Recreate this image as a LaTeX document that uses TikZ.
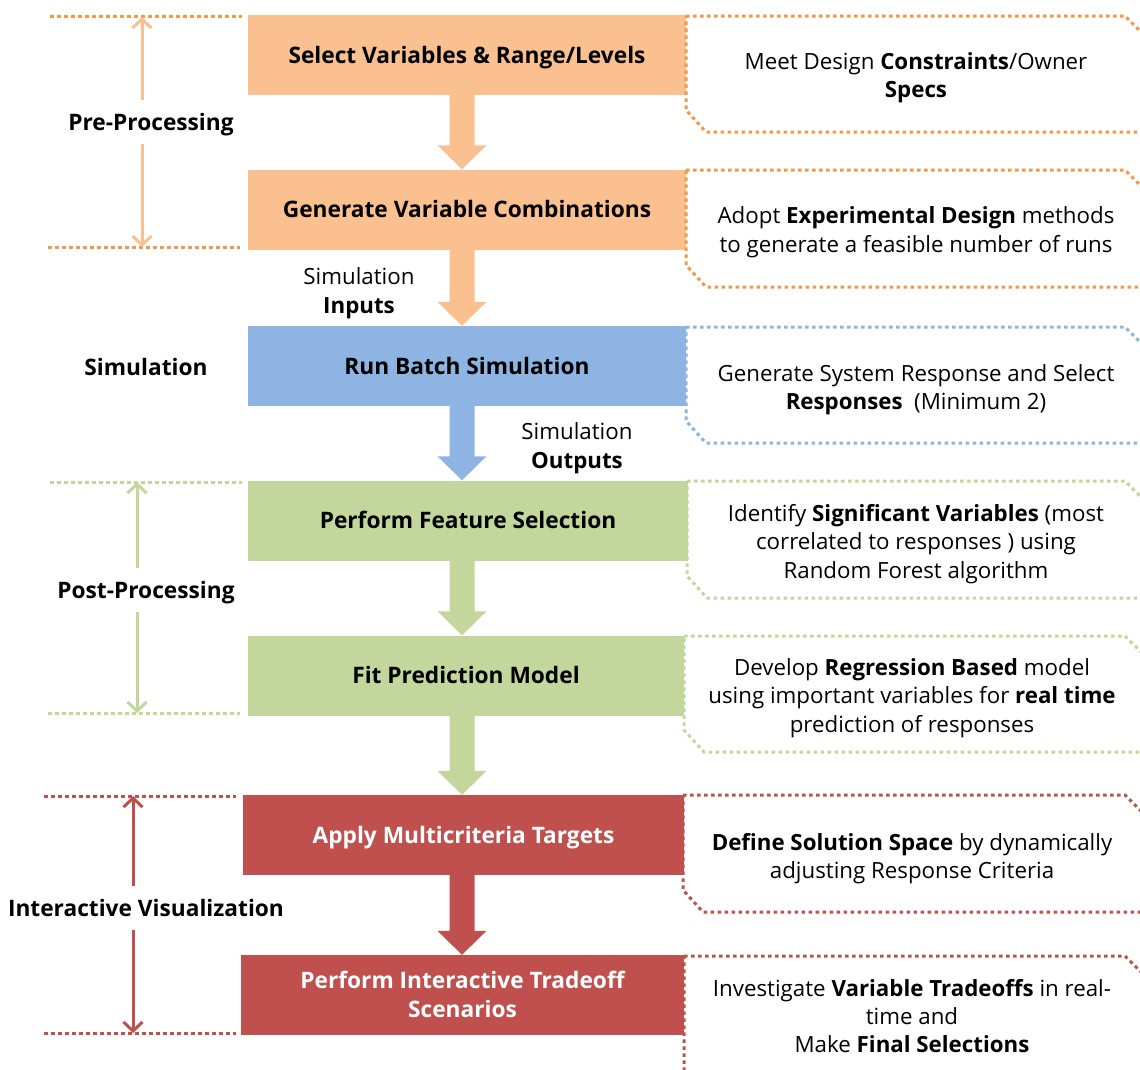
\documentclass[tikz,border=0pt]{standalone}
\usepackage{fontspec}
\setmainfont{Open Sans}
\usetikzlibrary{arrows.meta,calc}

\definecolor{orFill}{HTML}{FAC090}
\definecolor{orLine}{HTML}{F79646}
\definecolor{blFill}{HTML}{8EB4E3}
\definecolor{blLine}{HTML}{8EB4E3}
\definecolor{grFill}{HTML}{C3D69B}
\definecolor{grLine}{HTML}{C3D69B}
\definecolor{rdFill}{HTML}{C0504D}
\definecolor{rdLine}{HTML}{C0504D}

\newcommand\txtfont{\fontsize{22.3}{28.5}\selectfont}
\newcommand\hdfont{\fontsize{22.7}{28.5}\selectfont\bfseries}

% block arrow from the bottom of one stage to the top of the next
\newcommand\flowarrow[3]{%
  \fill[#3] ($(#1.south -| axis)+(-12.5,0)$) -- ($(#2.north -| axis)+(-12.5,-24)$)
    -- ($(#2.north -| axis)+(-24.5,-24)$) -- (#2.north -| axis)
    -- ($(#2.north -| axis)+(24.5,-24)$) -- ($(#2.north -| axis)+(12.5,-24)$)
    -- ($(#1.south -| axis)+(12.5,0)$) -- cycle;}

% dotted callout with two snipped corners: left x, right x, top y, bottom y
\newcommand\callout[5]{%
  \draw[dotline,#5] (#1,#3) -- (1125,#3) -- (1147,#3+22) -- (1147,#4)
    -- (#1+20,#4) -- (#1,#4-22) -- cycle;}

\tikzset{
  stage/.style={minimum width=438pt, minimum height=80pt, inner sep=0pt,
    align=center, font=\hdfont, text=black, text height=16pt, text depth=0pt},
  note/.style={align=center, font=\txtfont, text=black, inner sep=0pt},
  phase/.style={font=\hdfont, text=black, inner sep=0pt, text height=16pt, text depth=0pt},
  dotline/.style={line width=3pt, dash pattern=on 3.5pt off 3.5pt},
  span/.style={line width=3pt, -{Straight Barb[length=9pt,width=19pt,line width=3pt]}},
}

\begin{document}
\begin{tikzpicture}[x=1pt,y=-1pt]
\clip (0,0) rectangle (1140,1069);
\fill[white] (0,0) rectangle (1140,1069);
\coordinate (axis) at (462,0);

% stages
\node[stage, fill=orFill] (s1) at (467,55) {Select Variables \& Range/Levels};
\node[stage, fill=orFill] (s2) at (467,209.5) {Generate Variable Combinations};
\node[stage, fill=blFill] (s3) at (467,366) {Run Batch Simulation};
\node[stage, fill=grFill, minimum width=440pt] (s4) at (468,520.5) {Perform Feature Selection};
\node[stage, fill=grFill, minimum width=436pt] (s5) at (466,675.5) {Fit Prediction Model};
\node[stage, fill=rdFill, minimum width=441pt, text=white] (s6) at (463.5,835) {Apply Multicriteria Targets};
\node[stage, fill=rdFill, minimum width=443pt, text=white, text height=44.5pt] (s7) at (462.5,995) {Perform Interactive Tradeoff\\Scenarios};

% flow arrows
\flowarrow{s1}{s2}{orFill}
\flowarrow{s2}{s3}{orFill}
\flowarrow{s3}{s4}{blFill}
\flowarrow{s4}{s5}{grFill}
\flowarrow{s5}{s6}{grFill}
\flowarrow{s6}{s7}{rdFill}

% data labels beside the arrows
\node[note] (inp) at (359,293) {Simulation\\\textbf{Inputs}};
\node[note] (outp) at (577,448) {Simulation\\\textbf{Outputs}};

% callouts
\callout{686}{0}{16}{132}{orLine}
\callout{686}{0}{170}{287}{orLine}
\callout{686}{0}{327}{443}{blLine}
\callout{687}{0}{481}{598}{grLine}
\callout{684}{0}{636}{752}{grLine}
\callout{683}{0}{795}{912}{rdLine}
\callout{684}{0}{956}{1095}{rdLine}

\node[note] (n1) at (916,77.5) {Meet Design \textbf{Constraints}/Owner\\\textbf{Specs}};
\node[note] (n2) at (916,232) {Adopt \textbf{Experimental Design} methods\\to generate a feasible number of runs};
\node[note] (n3) at (916,389.5) {Generate System Response and Select\\\textbf{Responses}\ \ (Minimum 2)};
\node[note] (n4) at (916,544) {Identify \textbf{Significant Variables} (most\\correlated to responses ) using\\Random Forest algorithm};
\node[note] (n5) at (912,698) {Develop \textbf{Regression Based} model\\using important variables for \textbf{real time}\\prediction of responses};
\node[note] (n6) at (912,858.5) {\textbf{Define Solution Space} by dynamically\\adjusting Response Criteria};
\node[note, font=\fontsize{22.3}{28}\selectfont] (n7) at (912,1016.5) {Investigate \textbf{Variable Tradeoffs} in real-\\time and\\Make \textbf{Final Selections}};

% phase labels
\node[phase] (pre) at (151,122) {Pre-Processing};
\node[phase] (sim) at (146,367) {Simulation};
\node[phase] (post) at (146,590) {Post-Processing};
\node[phase] (vis) at (146,908) {Interactive Visualization};

% phase boundaries
\draw[dotline, orLine] (50,16) -- (242,16);
\draw[dotline, orLine] (48,247) -- (240,247);
\draw[dotline, grLine] (50,482) -- (242,482);
\draw[dotline, grLine] (48,713) -- (240,713);
\draw[dotline, rdLine] (44,796) -- (236,796);
\draw[dotline, rdLine] (44,1033) -- (236,1033);

% phase extents
\coordinate (preTop) at (142,17);
\coordinate (preBot) at (142,247);
\draw[span, orFill] (pre.north -| preTop) ++(0,-14) -- (preTop);
\draw[span, orFill] (pre.south -| preBot) ++(0,14) -- (preBot);
\coordinate (postTop) at (137,482);
\coordinate (postBot) at (137,713);
\draw[span, grFill] (post.north -| postTop) ++(0,-14) -- (postTop);
\draw[span, grFill] (post.south -| postBot) ++(0,14) -- (postBot);
\coordinate (visTop) at (133,796);
\coordinate (visBot) at (133,1033);
\draw[span, rdFill] (vis.north -| visTop) ++(0,-14) -- (visTop);
\draw[span, rdFill] (vis.south -| visBot) ++(0,14) -- (visBot);
\end{tikzpicture}
\end{document}
